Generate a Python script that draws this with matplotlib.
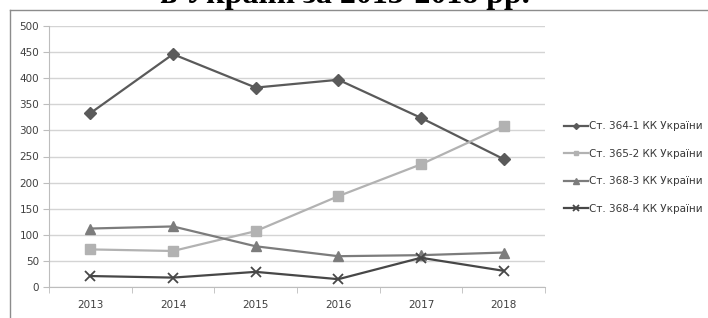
import numpy as np
import matplotlib
matplotlib.use('Agg')
import matplotlib.pyplot as plt
from matplotlib.lines import Line2D

years = ['2013', '2014', '2015', '2016', '2017', '2018']
art_364_1 = [333, 446, 382, 397, 324, 245]
art_365_2 = [72, 69, 107, 174, 235, 308]
art_368_3 = [112, 116, 78, 59, 61, 66]
art_368_4 = [21, 18, 29, 15, 56, 31]
labels = ['Ст. 364-1 КК України', 'Ст. 365-2 КК України',
          'Ст. 368-3 КК України', 'Ст. 368-4 КК України']
title = 'в Україні за 2013-2018 рр.'

plt.rcParams['font.family'] = ['Liberation Sans Narrow', 'DejaVu Sans']

fig = plt.figure(figsize=(7.08, 3.18), dpi=100)
ax = fig.add_axes([49 / 708, 1 - 287 / 318, 496 / 708, 261 / 318])

x = np.arange(len(years))
series = [
    (art_364_1, '#5a5a5a', 'D', 6, 1.6),
    (art_365_2, '#b2b2b2', 's', 7, 1.6),
    (art_368_3, '#7c7c7c', '^', 7.5, 1.6),
    (art_368_4, '#474747', 'x', 7.5, 1.6),
]
handles = []
for (vals, col, mk, ms, lw), lab in zip(series, labels):
    h, = ax.plot(x, vals, color=col, lw=lw, marker=mk, ms=ms,
                 mec=col, mfc=col, mew=1.3 if mk == 'x' else 1.0, label=lab)
    handles.append(h)

ax.set_xlim(-0.5, 5.5)
ax.set_ylim(0, 500)
ax.set_yticks(np.arange(0, 501, 50))
ax.set_xticks(x)
ax.set_xticklabels(years)
ax.set_xticks(np.arange(-0.5, 5.6, 1), minor=True)
ax.grid(axis='y', color='#d4d4d4', lw=1.0)
ax.set_axisbelow(True)
for s in ('top', 'right'):
    ax.spines[s].set_visible(False)
for s in ('left', 'bottom'):
    ax.spines[s].set_color('#bdbdbd')
ax.tick_params(axis='y', colors='#bdbdbd', labelcolor='#404040',
               labelsize=7.5, length=4, pad=3)
ax.tick_params(axis='x', which='major', length=0, labelcolor='#404040',
               labelsize=7.5, pad=9)
ax.tick_params(axis='x', which='minor', length=4, color='#bdbdbd')

leg = fig.legend(handles=handles, loc='upper left',
                 bbox_to_anchor=(555 / 708, 1 - 112 / 318),
                 frameon=False, fontsize=7.5, handlelength=2.3,
                 handletextpad=0.05, labelspacing=1.68, markerscale=0.5)
for t in leg.get_texts():
    t.set_color('#383838')

# clipped chart title and outer frame
fig.text(345 / 708, 1 - 3.5 / 318, title, ha='center', va='baseline',
         fontsize=23, fontweight='bold', family='Liberation Serif')
fig.add_artist(Line2D([10 / 708, 1], [1 - 9.5 / 318] * 2,
                      color='#8c8c8c', lw=1.0))
fig.add_artist(Line2D([10 / 708] * 2, [0, 1 - 9.5 / 318],
                      color='#8c8c8c', lw=1.0))

fig.savefig('out.png', dpi=100)
